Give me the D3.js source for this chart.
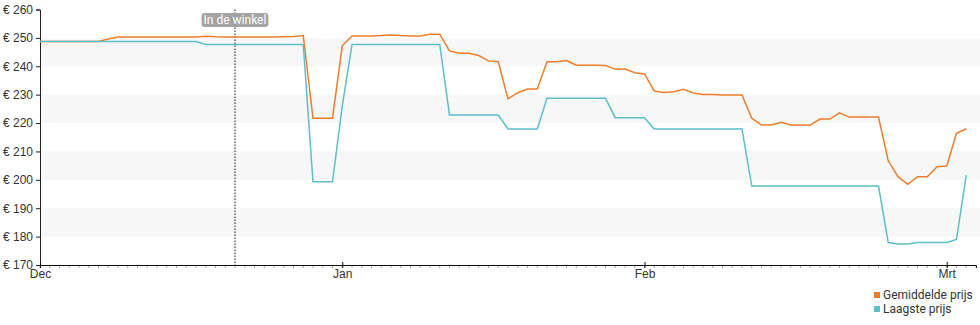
<!DOCTYPE html>
<html>
<head>
<meta charset="utf-8">
<script src="https://cdn.jsdelivr.net/npm/d3@7"></script>
<style>
  body { margin: 0; background: #fff; }
  svg { display: block; font-family: Roboto, "Noto Sans", sans-serif; }
</style>
</head>
<body>
<div id="chart"></div>
<script>
// prices per day, index 0 = 1 dec
var avgPrices = [
  248.7, 248.7, 248.7, 248.7, 248.7, 248.7, 248.7, 249.6, 250.3, 250.3,
  250.3, 250.3, 250.3, 250.3, 250.3, 250.3, 250.3, 250.6, 250.4, 250.3,
  250.3, 250.3, 250.3, 250.3, 250.3, 250.4, 250.5, 250.8, 221.7, 221.7,
  221.7, 247.2, 250.7, 250.7, 250.7, 250.8, 251.0, 250.8, 250.7, 250.7,
  251.3, 251.3, 245.4, 244.6, 244.6, 243.8, 241.9, 241.6, 228.5, 230.7,
  232.0, 232.0, 241.6, 241.6, 242.0, 240.4, 240.4, 240.4, 240.3, 239.0,
  239.0, 237.7, 237.3, 231.3, 230.8, 231.0, 231.9, 230.6, 230.1, 230.1,
  229.9, 229.9, 229.9, 221.7, 219.3, 219.3, 220.3, 219.3, 219.3, 219.3,
  221.4, 221.4, 223.6, 222.1, 222.1, 222.1, 222.1, 206.7, 201.1, 198.4,
  201.1, 201.1, 204.6, 204.9, 216.4, 218.0
];
var lowPrices = [
  248.7, 248.7, 248.7, 248.7, 248.7, 248.7, 248.7, 248.7, 248.7, 248.7,
  248.7, 248.7, 248.7, 248.7, 248.7, 248.7, 248.7, 247.7, 247.7, 247.7,
  247.7, 247.7, 247.7, 247.7, 247.7, 247.7, 247.7, 247.7, 199.3, 199.3,
  199.3, 226.0, 247.7, 247.7, 247.7, 247.7, 247.7, 247.7, 247.7, 247.7,
  247.7, 247.7, 222.8, 222.8, 222.8, 222.8, 222.8, 222.8, 217.9, 217.9,
  217.9, 217.9, 228.7, 228.7, 228.7, 228.7, 228.7, 228.7, 228.7, 221.9,
  221.9, 221.9, 221.9, 217.9, 217.9, 217.9, 217.9, 217.9, 217.9, 217.9,
  217.9, 217.9, 217.9, 197.8, 197.8, 197.8, 197.8, 197.8, 197.8, 197.8,
  197.8, 197.8, 197.8, 197.8, 197.8, 197.8, 197.8, 177.9, 177.4, 177.4,
  177.9, 177.9, 177.9, 177.9, 179.0, 201.7
];
var monthLabels = ["Dec", "Jan", "Feb", "Mrt"];
var monthStart = [0, 31, 62, 93];
var yTicks = [170, 180, 190, 200, 210, 220, 230, 240, 250, 260];
var seriesNames = ["Gemiddelde prijs", "Laagste prijs"];
var seriesColors = ["#ee7d2b", "#5bbfc7"];
var storeDay = 20;
var storeLabel = "In de winkel";

var w = 980, h = 325;
var padL = 40, padT = 9.5, padB = 265, padR = 976;

var svg = d3.select("#chart").append("svg")
  .attr("width", w).attr("height", h);

var x = d3.scaleLinear().domain([0, 96]).range([padL, padR]);
var y = d3.scaleLinear().domain([170, 260]).range([padB, padT]);

// light bands
for (var v = 180; v < 260; v += 20) {
  svg.append("rect")
    .attr("x", padL).attr("width", w - padL)
    .attr("y", y(v + 10)).attr("height", y(v) - y(v + 10))
    .attr("fill", "#f7f7f7");
}

// y axis
var yAxis = d3.axisLeft(y).tickValues(yTicks).tickSize(4).tickPadding(3)
  .tickFormat(function(d){ return "€ " + d; });
var gy = svg.append("g").attr("transform", "translate(" + padL + ",0)").call(yAxis);
gy.select(".domain").attr("stroke", "#222");
gy.selectAll(".tick line").attr("stroke", "#222");
gy.selectAll("text").style("font-size", "12px").attr("fill", "#333");

// x axis, minor ticks per day
var days = d3.range(0, 97);
svg.append("g").selectAll("line").data(days).enter().append("line")
  .attr("x1", function(d){ return x(d); }).attr("x2", function(d){ return x(d); })
  .attr("y1", padB + 1).attr("y2", padB + 3)
  .attr("stroke", "#aaa").attr("stroke-width", 1);

var xAxis = d3.axisBottom(x).tickValues(monthStart).tickSize(3).tickPadding(1)
  .tickFormat(function(d, i){ return monthLabels[i]; });
var gx = svg.append("g").attr("transform", "translate(0," + padB + ")").call(xAxis);
gx.select(".domain").attr("stroke", "#111");
gx.selectAll(".tick line").attr("stroke", "#111").attr("y1", -3);
gx.selectAll("text").style("font-size", "12px").attr("fill", "#333");

// store marker
svg.append("line")
  .attr("x1", x(storeDay)).attr("x2", x(storeDay))
  .attr("y1", padT).attr("y2", padB)
  .attr("stroke", "#111").attr("stroke-width", 1).attr("stroke-dasharray", "1.5,1.5");

var lbl = svg.append("g");
var lblText = lbl.append("text")
  .attr("x", x(storeDay)).attr("y", 24)
  .attr("text-anchor", "middle")
  .style("font-size", "12px").attr("fill", "#fff")
  .text(storeLabel);
var bb = lblText.node().getBBox();
lbl.insert("rect", "text")
  .attr("x", bb.x - 2).attr("y", 13).attr("width", bb.width + 4).attr("height", 14)
  .attr("rx", 3).attr("fill", "#999").attr("fill-opacity", 0.9);

// lines
var line = d3.line()
  .x(function(d, i){ return x(i); })
  .y(function(d){ return y(d); });

[avgPrices, lowPrices].forEach(function(s, k) {
  svg.append("path")
    .datum(s)
    .attr("d", line)
    .attr("fill", "none")
    .attr("stroke", seriesColors[k])
    .attr("stroke-width", 1.5);
});

// legend
var leg = svg.append("g").selectAll("g").data(seriesNames).enter().append("g")
  .attr("transform", function(d, i){ return "translate(874," + (292 + i * 14) + ")"; });
leg.append("rect").attr("width", 6).attr("height", 6)
  .attr("fill", function(d, i){ return seriesColors[i]; });
leg.append("text").attr("x", 9).attr("y", 7)
  .style("font-size", "12px").attr("fill", "#333")
  .text(function(d){ return d; });
</script>
</body>
</html>
